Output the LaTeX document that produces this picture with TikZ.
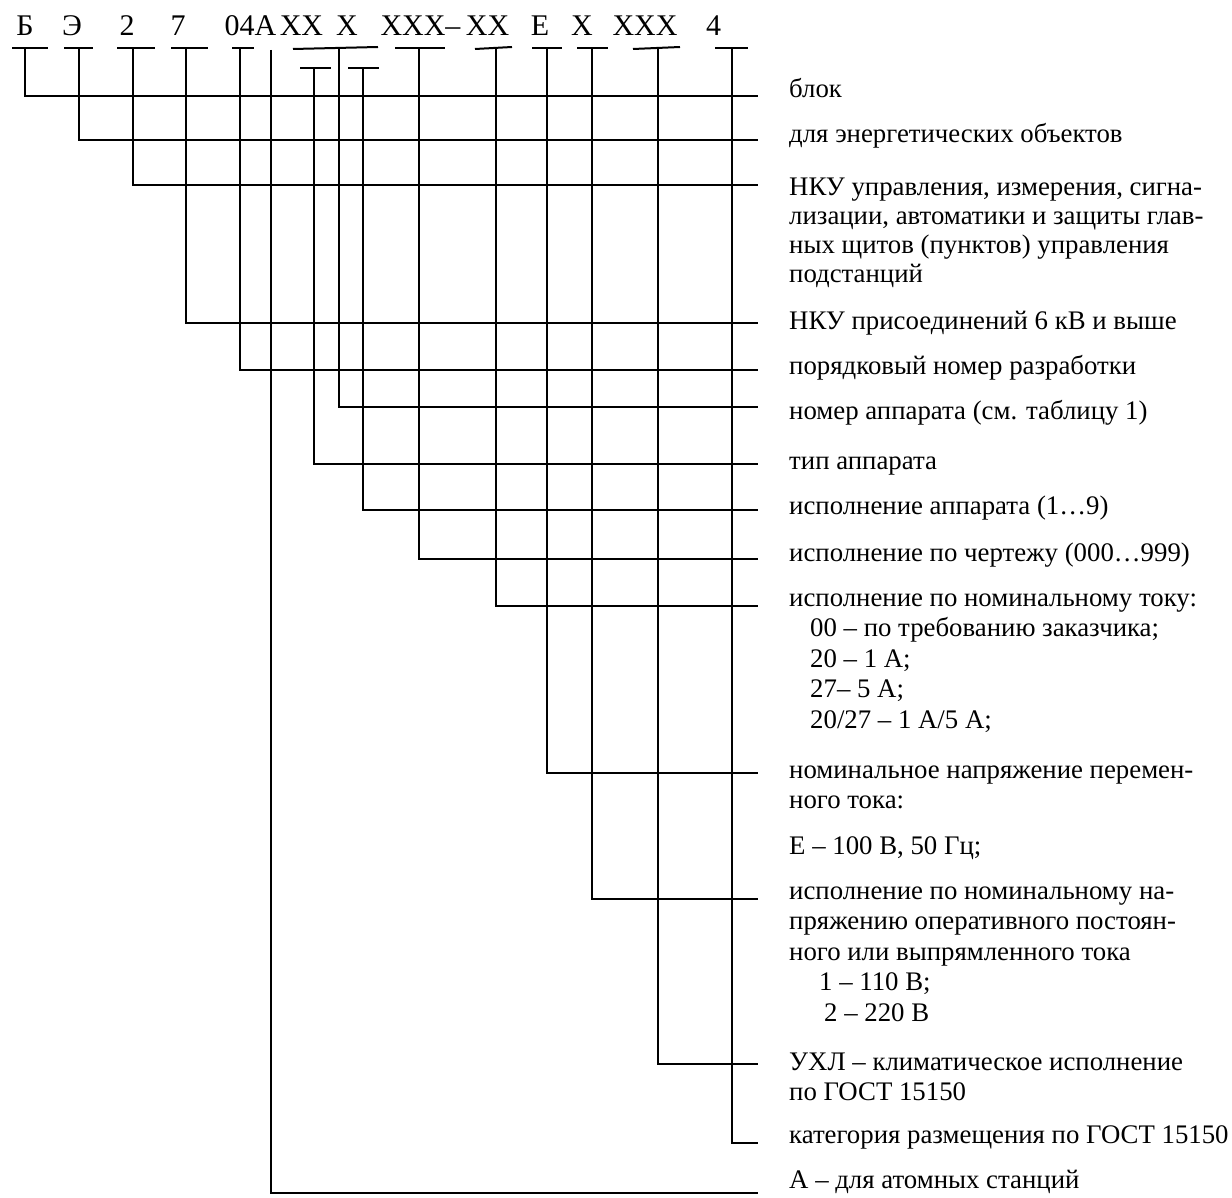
\documentclass[tikz,border=0pt]{standalone}
\usepackage{fontspec}
\setmainfont{Liberation Serif}

\newcommand{\rowsof}[1]{\begin{tabular}[t]{@{}l@{}}#1\end{tabular}}

\begin{document}
\begin{tikzpicture}[x=1pt, y=-1pt,
  code/.style={anchor=base, inner sep=0pt, font=\fontsize{30}{33}\selectfont},
  lbl/.style={anchor=base west, inner sep=0pt, font=\fontsize{26.8}{29}\selectfont},
  wide/.style={font=\fontsize{26.8}{30.5}\selectfont},
  ln/.style={line width=2pt}
]
  \useasboundingbox (0,0) rectangle (1232,1198);

  % designation
  \node[code] (cB)   at (25,36)    {Б};
  \node[code] (cE)   at (72,36)    {Э};
  \node[code] (c2)   at (127,36)   {2};
  \node[code] (c7)   at (178,36)   {7};
  \node[code] (c04)  at (250.5,36) {04А};
  \node[code] (cxx)  at (301.5,36) {ХХ};
  \node[code] (cx)   at (347,36)   {Х};
  \node[code] (cxxx) at (420.5,36) {ХХХ–};
  \node[code] (ccur) at (487.5,36) {ХХ};
  \node[code] (cac)  at (540,36)   {Е};
  \node[code] (cdc)  at (582,36)   {Х};
  \node[code] (ccl)  at (645,36)   {ХХХ};
  \node[code] (c4)   at (713.5,36) {4};

  % tops of the leaders
  \coordinate (kB)   at (25,48);
  \coordinate (kE)   at (79,48);
  \coordinate (k2)   at (133,48);
  \coordinate (k7)   at (186,48);
  \coordinate (k04)  at (240,48);
  \coordinate (kA)   at (271,50);
  \coordinate (knum) at (339,48);
  \coordinate (ktyp) at (314,68);
  \coordinate (kver) at (363,68);
  \coordinate (kdrw) at (419,48);
  \coordinate (kcur) at (496,48);
  \coordinate (kac)  at (547,48);
  \coordinate (kdc)  at (592,48);
  \coordinate (kcl)  at (658,48);
  \coordinate (k4)   at (732,48);

  % bars under the code
  \draw[ln] ([xshift=-13pt]kB) -- ([xshift=23pt]kB);
  \draw[ln] ([xshift=-15pt]kE) -- ([xshift=14pt]kE);
  \draw[ln] ([xshift=-16pt]k2) -- ([xshift=22pt]k2);
  \draw[ln] ([xshift=-15pt]k7) -- ([xshift=22pt]k7);
  \draw[ln] ([xshift=-8pt]k04) -- ([xshift=14pt]k04);
  \draw[ln] ([xshift=-46pt,yshift=-1pt]knum) -- ([xshift=39pt,yshift=1pt]knum);
  \draw[ln] ([xshift=-14pt]ktyp) -- ([xshift=17pt]ktyp);
  \draw[ln] ([xshift=-15pt]kver) -- ([xshift=16pt]kver);
  \draw[ln] ([xshift=-24pt]kdrw) -- ([xshift=26pt]kdrw);
  \draw[ln] ([xshift=-21pt,yshift=-1pt]kcur) -- ([xshift=16pt,yshift=1pt]kcur);
  \draw[ln] ([xshift=-15pt]kac) -- ([xshift=15pt]kac);
  \draw[ln] ([xshift=-15pt]kdc) -- ([xshift=16pt]kdc);
  \draw[ln] ([xshift=-25pt,yshift=-1pt]kcl) -- ([xshift=22pt,yshift=1pt]kcl);
  \draw[ln] ([xshift=-17pt]k4) -- ([xshift=16pt]k4);

  % ends of the leaders
  \coordinate (eB)   at (758,96);
  \coordinate (eE)   at (758,140);
  \coordinate (e2)   at (758,185);
  \coordinate (e7)   at (758,323);
  \coordinate (e04)  at (758,370);
  \coordinate (enum) at (758,407);
  \coordinate (etyp) at (758,464);
  \coordinate (ever) at (758,510);
  \coordinate (edrw) at (758,559);
  \coordinate (ecur) at (758,606);
  \coordinate (eac)  at (758,773);
  \coordinate (edc)  at (758,899);
  \coordinate (ecl)  at (758,1064);
  \coordinate (e4)   at (758,1143);
  \coordinate (eA)   at (758,1193);

  \draw[ln] (kB)   |- (eB);
  \draw[ln] (kE)   |- (eE);
  \draw[ln] (k2)   |- (e2);
  \draw[ln] (k7)   |- (e7);
  \draw[ln] (k04)  |- (e04);
  \draw[ln] (knum) |- (enum);
  \draw[ln] (ktyp) |- (etyp);
  \draw[ln] (kver) |- (ever);
  \draw[ln] (kdrw) |- (edrw);
  \draw[ln] (kcur) |- (ecur);
  \draw[ln] (kac)  |- (eac);
  \draw[ln] (kdc)  |- (edc);
  \draw[ln] (kcl)  |- (ecl);
  \draw[ln] (k4)   |- (e4);
  \draw[ln] (kA)   |- (eA);

  % explanations
  \node[lbl] (lB)   at (789,98)   {блок};
  \node[lbl] (lE)   at (789,143)  {для энергетических объектов};
  \node[lbl] (l2)   at (789,196)  {\rowsof{НКУ управления, измерения, сигна-\\
                                   лизации, автоматики и защиты глав-\\
                                   ных щитов (пунктов) управления\\
                                   подстанций}};
  \node[lbl] (l7)   at (789,330)  {НКУ присоединений 6 кВ и выше};
  \node[lbl] (l04)  at (789,374)  {порядковый номер разработки};
  \node[lbl] (lnum) at (789,419)  {номер аппарата (см. таблицу 1)};
  \node[lbl] (ltyp) at (789,469)  {тип аппарата};
  \node[lbl] (lver) at (789,514)  {исполнение аппарата (1…9)};
  \node[lbl] (ldrw) at (789,561)  {исполнение по чертежу (000…999)};
  \node[lbl, wide] (lcur) at (789,606) {\rowsof{исполнение по номинальному току:\\
                                   \hspace*{21pt}00 – по требованию заказчика;\\
                                   \hspace*{21pt}20 – 1 А;\\
                                   \hspace*{21pt}27– 5 А;\\
                                   \hspace*{21pt}20/27 – 1 А/5 А;}};
  \node[lbl, wide] (lac)  at (789,778)  {\rowsof{номинальное напряжение перемен-\\
                                   ного тока:\\[15pt]
                                   Е – 100 В, 50 Гц;}};
  \node[lbl, wide] (ldc)  at (789,899)  {\rowsof{исполнение по номинальному на-\\
                                   пряжению оперативного постоян-\\
                                   ного или выпрямленного тока\\
                                   \hspace*{30pt}1 – 110 В;\\
                                   \hspace*{35pt}2 – 220 В}};
  \node[lbl, wide] (lcl)  at (789,1070) {\rowsof{УХЛ – климатическое исполнение\\
                                   по ГОСТ 15150}};
  \node[lbl] (l4)   at (789,1143) {категория размещения по ГОСТ 15150};
  \node[lbl] (lA)   at (789,1188) {А – для атомных станций};
\end{tikzpicture}
\end{document}
